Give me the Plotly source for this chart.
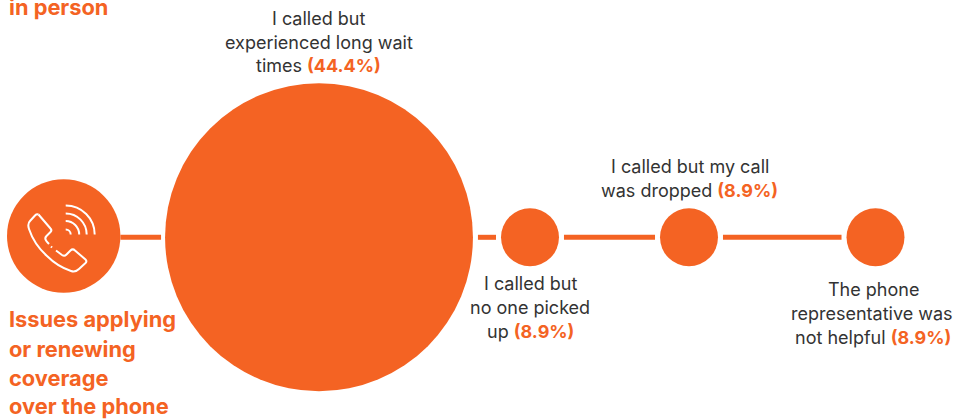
import plotly.graph_objects as go

ORANGE = "#F46323"
INK = "#333333"
FONT = "Inter"

# Chart values
reasons = [
    "I called but experienced long wait times",
    "I called but no one picked up",
    "I called but my call was dropped",
    "The phone representative was not helpful",
]
shares = [44.4, 8.9, 8.9, 8.9]
heading_lines = ["Issues applying", "or renewing", "coverage", "over the phone"]
previous_heading_tail = "in person"

# Timeline geometry, in page pixels
node_x = [319, 530, 689, 875.5]
axis_y = 237.3
hub_x, hub_y, hub_r = 63.7, 236, 56.7
GAP = 5


def diameter(share):
    # Bubble width grows linearly with the reported share
    return 7.04 * share - 4.7


sizes = [diameter(s) for s in shares]

fig = go.Figure()

# Connectors between the hub and consecutive bubbles
seg_x, seg_y = [hub_x + hub_r, node_x[0] - sizes[0] / 2 - GAP + 1], [axis_y, axis_y]
seg_x.append(None)
seg_y.append(None)
for i in range(len(node_x) - 1):
    seg_x += [node_x[i] + sizes[i] / 2 + GAP, node_x[i + 1] - sizes[i + 1] / 2 - GAP, None]
    seg_y += [axis_y, axis_y, None]
fig.add_trace(go.Scatter(x=seg_x, y=seg_y, mode="lines", hoverinfo="skip",
                         line=dict(color=ORANGE, width=5)))

# Hub disc behind the phone icon
fig.add_trace(go.Scatter(x=[hub_x], y=[hub_y], mode="markers", hoverinfo="skip",
                         marker=dict(size=hub_r * 2, color=ORANGE, opacity=1, line=dict(width=0))))

# One bubble per reason
fig.add_trace(go.Scatter(
    x=node_x, y=[axis_y] * len(node_x), mode="markers", text=reasons,
    customdata=shares, hovertemplate="%{text}: %{customdata}%<extra></extra>",
    marker=dict(size=sizes, sizemode="diameter", sizeref=1, color=ORANGE, opacity=1,
                line=dict(width=0)),
))


def arc(r, cx=65.7, cy=234.5):
    # Quarter circle from straight up to straight right
    k = 0.552 * r
    return f"M {cx} {cy - r} C {cx + k} {cy - r} {cx + r} {cy - k} {cx + r} {cy}"


handset = (
    "M 38.5 214.5 C 37 214 36 214.5 35 215.5 L 30 221 C 28 223 28 226 29 229 "
    "C 32 238 38 248 47 256 C 54 263 62 268 71 271 C 74 272 77 271 79 269 L 85.5 263 "
    "C 86.5 262 86.5 260.5 85.5 259.5 L 75 250.5 C 73.5 249 72 249 70.5 250.5 L 66.5 254.5 "
    "C 65 256 63.5 256 62 255 C 60 253.5 58 252 56 250.5"
)
handset_top = (
    "M 38.5 214.5 L 50.5 228.5 C 51.5 229.5 51.5 231 50.5 232 L 46.5 236 "
    "C 45 237.5 45 239 46 240.5 C 47 242 48 243 49 244"
)
icon_paths = [handset, handset_top, "M 51 246.5 L 52 247.5", arc(29), arc(21), arc(13.5), arc(5)]
shapes = [
    dict(type="path", path=p, xref="x", yref="y", line=dict(color="white", width=2),
         fillcolor="rgba(0,0,0,0)", layer="above")
    for p in icon_paths
]

annotations = []


def label(x, y, text, size=18, color=INK, anchor="center"):
    annotations.append(dict(x=x, y=y, xref="x", yref="y", text=text, showarrow=False,
                            xanchor=anchor, yanchor="middle", align=anchor,
                            font=dict(family=FONT, size=size, color=color)))


def pct(v):
    return f"<b><span style='color:{ORANGE}'>({v}%)</span></b>"


# Bubble captions
label(318.5, 18.5, "I called but")
label(318.5, 42.5, "experienced long wait")
label(318.5, 65.5, f"times {pct(shares[0])}")

label(530, 283.5, "I called but")
label(530, 307.5, "no one picked")
label(530, 331.5, f"up {pct(shares[1])}")

label(689.5, 166.5, "I called but my call")
label(689.5, 190.5, f"was dropped {pct(shares[2])}")

label(873, 289.5, "The phone")
label(871.5, 313.5, "representative was")
label(873, 337.5, f"not helpful {pct(shares[3])}")

# Orange section headings
label(7, 7, f"<b>{previous_heading_tail}</b>", size=21.8, color=ORANGE, anchor="left")
for line, y in zip(heading_lines, [319, 349, 378, 405.5]):
    label(7, y, f"<b>{line}</b>", size=21.8, color=ORANGE, anchor="left")

fig.update_layout(
    width=953, height=420, margin=dict(l=0, r=0, t=0, b=0),
    paper_bgcolor="white", plot_bgcolor="white", showlegend=False,
    xaxis=dict(range=[0, 953], visible=False, fixedrange=True),
    yaxis=dict(range=[420, 0], visible=False, fixedrange=True),
    shapes=shapes, annotations=annotations,
)

fig.write_html("out.html", config={"displayModeBar": False})
